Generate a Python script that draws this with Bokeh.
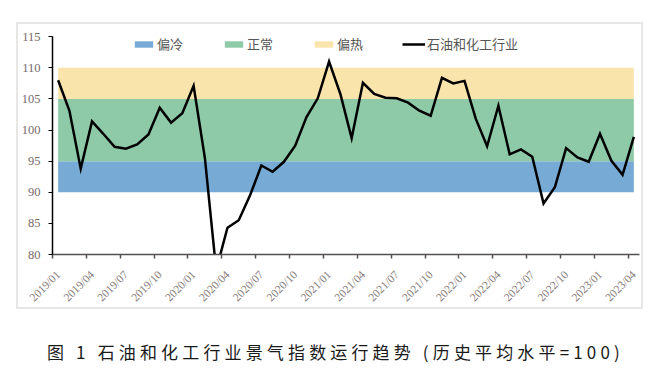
from bokeh.plotting import figure
from bokeh.models import FixedTicker, Legend, LegendItem, Div, ColumnDataSource
from bokeh.layouts import column
from bokeh.embed import file_html
from bokeh.resources import INLINE
import math

# ---- data ----
months_idx = list(range(52))  # 2019/01 .. 2023/04
industry_index = [108.0, 103.1, 93.8, 101.4, 99.4, 97.3, 97.0, 97.7, 99.3, 103.6,
                  101.2, 102.7, 107.1, 95.5, 77.5, 84.3, 85.5, 89.5, 94.3, 93.3,
                  94.9, 97.5, 102.1, 105.1, 111.0, 105.8, 98.7, 107.6, 105.8, 105.2,
                  105.1, 104.4, 103.1, 102.3, 108.4, 107.5, 107.9, 101.8, 97.4, 103.9,
                  96.1, 96.9, 95.7, 88.2, 90.8, 97.1, 95.6, 94.9, 99.4, 95.1,
                  92.8, 98.9]
tick_positions = [0, 3, 6, 9, 12, 15, 18, 21, 24, 27, 30, 33, 36, 39, 42, 45, 48, 51]
tick_labels = ["2019/01", "2019/04", "2019/07", "2019/10",
               "2020/01", "2020/04", "2020/07", "2020/10",
               "2021/01", "2021/04", "2021/07", "2021/10",
               "2022/01", "2022/04", "2022/07", "2022/10",
               "2023/01", "2023/04"]
y_ticks = [80, 85, 90, 95, 100, 105, 110, 115]
band_names = ["偏冷", "正常", "偏热"]
band_bottom = [90, 95, 105]
band_top = [95, 105, 110]
band_colors = ["#77AAD4", "#8FCAA8", "#F9E4AB"]
series_name = "石油和化工行业"
caption = "图 1 石油和化工行业景气指数运行趋势 (历史平均水平=100)"

p = figure(width=627, height=287, output_backend="svg", toolbar_location=None,
           x_range=(-0.5, 51.5), y_range=(80, 116),
           min_border_left=33, min_border_right=6, min_border_top=6, min_border_bottom=57)
p.margin = (22, 0, 0, 16)
p.styles = {"border": "2px solid #e9e6e6"}
p.background_fill_color = "white"
p.border_fill_color = "white"
p.outline_line_color = None
p.xgrid.visible = False
p.ygrid.visible = False

items = []
for name, b, t, c in zip(band_names, band_bottom, band_top, band_colors):
    r = p.quad(left=[months_idx[0]], right=[months_idx[-1]], bottom=[b], top=[t],
               fill_color=c, line_color=None)
    items.append(LegendItem(label=name, renderers=[r]))

src = ColumnDataSource(dict(x=months_idx, y=industry_index))
lr = p.line("x", "y", source=src, line_color="black", line_width=2.5, line_join="miter")
items.append(LegendItem(label=series_name, renderers=[lr]))

legend = Legend(items=items, orientation="horizontal", location=(80, 201),
                glyph_width=23, glyph_height=8, label_standoff=2, spacing=39,
                padding=0, margin=0, border_line_color=None, background_fill_alpha=0,
                label_text_font="Noto Sans CJK SC", label_text_font_size="13px",
                label_text_color="#555555")
p.add_layout(legend, "center")

# y axis
ya = p.yaxis[0]
ya.ticker = FixedTicker(ticks=y_ticks)
ya.bounds = (y_ticks[0], y_ticks[-1])
ya.axis_line_color = "black"
ya.axis_line_width = 1.5
ya.major_tick_line_color = "black"
ya.major_tick_out = 4
ya.major_tick_in = 0
ya.minor_tick_line_color = None
ya.major_label_text_font = "Liberation Serif"
ya.major_label_text_font_size = "12.5px"
ya.major_label_text_color = "#756a6a"
ya.major_label_standoff = 8

# x axis
xa = p.xaxis[0]
xa.ticker = FixedTicker(ticks=tick_positions, minor_ticks=[t - 0.5 for t in tick_positions])
xa.major_label_overrides = {t: l for t, l in zip(tick_positions, tick_labels)}
xa.major_label_orientation = math.pi / 4
xa.axis_line_color = "#555050"
xa.axis_line_width = 1.5
xa.major_tick_line_color = None
xa.minor_tick_line_color = "#555050"
xa.minor_tick_line_width = 1.5
xa.minor_tick_out = 4
xa.minor_tick_in = 0
xa.major_label_text_font = "Liberation Serif"
xa.major_label_text_font_size = "11.5px"
xa.major_label_text_color = "#857a7a"
xa.major_label_standoff = 12

div = Div(text=caption, width=640, margin=(33, 0, 0, 47),
          styles={"font-family": "Noto Sans CJK SC", "font-size": "17px",
                  "letter-spacing": "4.15px", "line-height": "20px", "color": "#1a1a1a",
                  "white-space": "nowrap"})

layout = column(p, div)
open("out.html", "w").write(file_html(layout, INLINE))
